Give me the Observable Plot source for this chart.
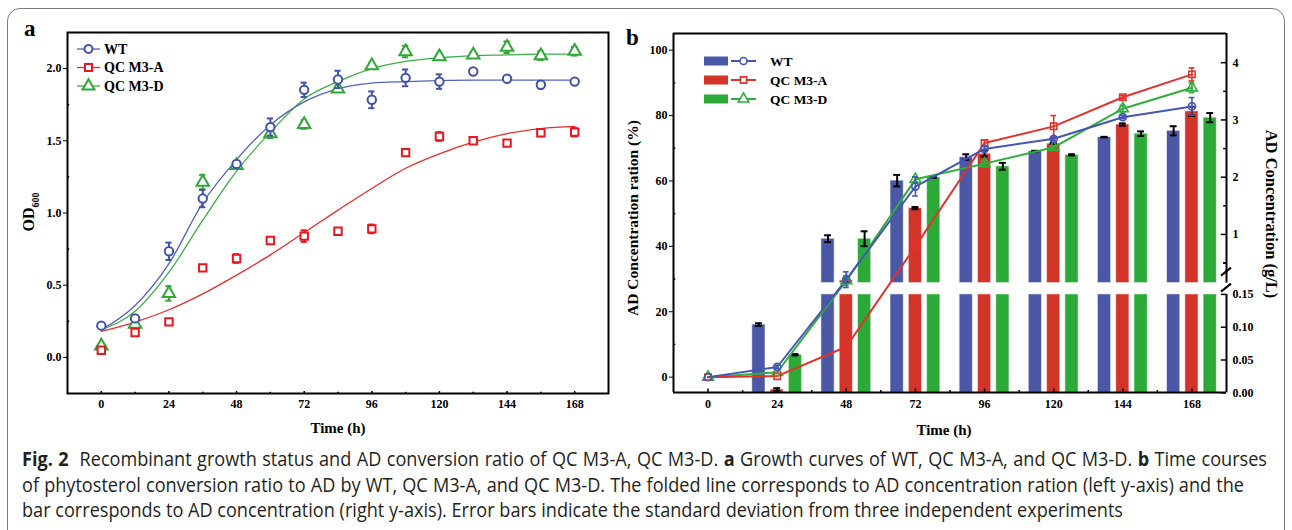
<!DOCTYPE html>
<html>
<head>
<meta charset="utf-8">
<script src="https://cdn.jsdelivr.net/npm/d3@7"></script>
<script src="https://cdn.jsdelivr.net/npm/@observablehq/plot@0.6"></script>
<style>
html,body{margin:0;padding:0;background:#fff;}
#fig{position:relative;width:1292px;height:530px;overflow:hidden;background:#fff;}
#box{position:absolute;left:7px;top:8px;width:1278px;height:580px;border:1.5px solid #7a7b7e;border-radius:13px;box-sizing:border-box;}
.serif{font-family:"Liberation Serif","Times New Roman",serif;font-weight:bold;color:#000;}
.lab{position:absolute;white-space:nowrap;line-height:1;}
.rot{transform:translate(-50%,-50%) rotate(-90deg);}
.rotr{transform:translate(-50%,-50%) rotate(90deg);}
.ctr{transform:translate(-50%,-50%);}
.cap{position:absolute;left:22px;white-space:nowrap;font-family:"Liberation Sans Narrow","Open Sans","Noto Sans",sans-serif;font-size:19.5px;color:#231f20;transform-origin:0 0;line-height:1;}
.plot{position:absolute;left:0;top:0;}
#legend{position:absolute;left:0;top:0;}
</style>
</head>
<body>
<div id="fig">
  <div id="box"></div>
  <div id="pa" class="plot"></div>
  <div id="pb1" class="plot" style="left:610px"></div>
  <div id="pb2" class="plot" style="left:610px"></div>
  <div class="lab serif" style="left:24px;top:17px;font-size:23px">a</div>
  <div class="lab serif" style="left:626px;top:26px;font-size:23px">b</div>
  <div class="lab serif rot" style="left:31px;top:212px;font-size:16px">OD<sub style="font-size:10px">600</sub></div>
  <div class="lab serif ctr" style="left:338px;top:428px;font-size:15px">Time (h)</div>
  <div class="lab serif ctr" style="left:944px;top:430px;font-size:15px">Time (h)</div>
  <div class="lab serif rot" style="left:633px;top:218px;font-size:15.5px">AD Concentration ration (%)</div>
  <div class="lab serif rotr" style="left:1271px;top:214px;font-size:16.5px">AD Concentration (g/L)</div>
  <div class="cap" data-w="1245" data-justify="1" style="top:449px"><b>Fig. 2</b>&nbsp; Recombinant growth status and AD conversion ratio of QC M3-A, QC M3-D. <b>a</b> Growth curves of WT, QC M3-A, and QC M3-D. <b>b</b> Time courses</div>
  <div class="cap" data-w="1222" data-justify="1" style="top:475px">of phytosterol conversion ratio to AD by WT, QC M3-A, and QC M3-D. The folded line corresponds to AD concentration ration (left y-axis) and the</div>
  <div class="cap" data-w="1101" style="top:500px">bar corresponds to AD concentration (right y-axis). Error bars indicate the standard deviation from three independent experiments</div>
</div>
<script>
// ================= DATA =================
const seriesNames = ["WT", "QC M3-A", "QC M3-D"];

// ---- Panel a: OD600 growth curves ----
const timeA   = [0, 12, 24, 36, 48, 60, 72, 84, 96, 108, 120, 132, 144, 156, 168];
const odWT    = [0.22, 0.27, 0.735, 1.10, 1.34, 1.595, 1.853, 1.925, 1.784, 1.936, 1.91, 1.98, 1.93, 1.888, 1.91];
const odWTsd  = [0.01, 0.02, 0.06, 0.06, 0.02, 0.06, 0.05, 0.06, 0.058, 0.058, 0.05, 0.01, 0.01, 0.025, 0.01];
const odA     = [0.05, 0.173, 0.246, 0.62, 0.685, 0.81, 0.84, 0.873, 0.89, 1.418, 1.53, 1.50, 1.484, 1.556, 1.56];
const odAsd   = [0.02, 0.01, 0.01, 0.01, 0.03, 0.02, 0.04, 0.02, 0.03, 0.02, 0.03, 0.02, 0.02, 0.025, 0.03];
const odD     = [0.08, 0.23, 0.443, 1.214, 1.33, 1.549, 1.613, 1.86, 2.02, 2.118, 2.083, 2.095, 2.148, 2.09, 2.12];
const odDsd   = [0.01, 0.02, 0.05, 0.05, 0.02, 0.03, 0.03, 0.02, 0.02, 0.04, 0.02, 0.02, 0.04, 0.03, 0.03];
// fitted growth curves
const fitTime = [0, 12, 24, 36, 48, 60, 72, 84, 96, 108, 120, 132, 144, 156, 168];
const fitWT   = [0.19, 0.36, 0.65, 1.07, 1.37, 1.61, 1.77, 1.86, 1.90, 1.91, 1.917, 1.92, 1.92, 1.92, 1.92];
const fitA    = [0.18, 0.245, 0.33, 0.44, 0.57, 0.71, 0.865, 1.02, 1.17, 1.31, 1.41, 1.49, 1.55, 1.585, 1.60];
const fitD    = [0.19, 0.32, 0.59, 0.95, 1.29, 1.56, 1.79, 1.91, 2.0, 2.05, 2.075, 2.09, 2.095, 2.10, 2.10];
const ticksAx = [0, 24, 48, 72, 96, 120, 144, 168];
const ticksAy = [0, 0.5, 1.0, 1.5, 2.0];

// ---- Panel b: AD conversion ratio (lines, %) and AD concentration (bars, g/L) ----
const timeB     = [0, 24, 48, 72, 96, 120, 144, 168];
const ratioWT   = [0, 3.1, 29.8, 58.3, 69.8, 72.9, 79.5, 82.8];
const ratioWTsd = [0, 0.5, 2.4, 2.9, 0.8, 0.5, 0.5, 2.7];
const ratioA    = [0, 0.3, 9.3, 40.0, 71.6, 76.7, 85.6, 92.6];
const ratioAsd  = [0, 0.3, 0.5, 0.5, 1.0, 3.3, 0.5, 2.0];
const ratioD    = [0, 1.5, 29.5, 60.5, 65.3, 70.3, 82.1, 88.5];
const ratioDsd  = [0, 0.3, 1.5, 0.8, 0.8, 0.5, 1.0, 1.5];
const barTime   = [24, 48, 72, 96, 120, 144, 168];
const concWT    = [0.104, 0.925, 1.94, 2.35, 2.456, 2.70, 2.81];
const concWTsd  = [0.002, 0.06, 0.10, 0.05, 0.005, 0.005, 0.08];
const concA     = [0.005, 0.196, 1.46, 2.41, 2.585, 2.92, 3.15];
const concAsd   = [0.002, 0.03, 0.02, 0.05, 0.01, 0.02, 0.08];
const concD     = [0.058, 0.925, 2.00, 2.19, 2.39, 2.76, 3.04];
const concDsd   = [0.001, 0.13, 0.015, 0.06, 0.01, 0.04, 0.08];
const ticksBx     = [0, 24, 48, 72, 96, 120, 144, 168];
const ticksBleft  = [0, 20, 40, 60, 80, 100];
const ticksBright = [0, 0.05, 0.10, 0.15, 1, 2, 3, 4];
const concBreak   = 0.15;   // axis break value (g/L)

// ================= STYLE / LAYOUT =================
const FONT = '"Liberation Serif","Times New Roman",serif';
const colA   = ["#3f52aa", "#e8171f", "#2fa836"];
const colFit = ["#5263bf", "#ee2b2b", "#3bb046"];
const colBar = ["#4a58a5", "#d2342a", "#2caa38"];
const colLn  = ["#4356b4", "#e2322c", "#2fae3b"];
const symA   = ["circle", "square", "triangle"];
const barOff = [-6.35, 0, 6.35];   // hours
const BAR_HALF = 2.3;
const LOW_TOP = concBreak - 1e-9;
const axStyle = {fontFamily: FONT, fontWeight: "bold", fontSize: "12px", color: "#000", background: "transparent", overflow: "visible"};

const rows = (t, v, sd) => t.map((x, i) => ({t: x, v: v[i], sd: sd ? sd[i] : 0}));

function errMarks(data, color, halfCap, width, xa, minSd) {
  const d = data.filter(r => r.sd > minSd);
  return [
    Plot.ruleX(d, {x: xa, y1: r => r.v - r.sd, y2: r => r.v + r.sd, stroke: color, strokeWidth: width}),
    Plot.ruleY(d, {y: r => r.v + r.sd, x1: r => xa(r) - halfCap, x2: r => xa(r) + halfCap, stroke: color, strokeWidth: width}),
    Plot.ruleY(d, {y: r => r.v - r.sd, x1: r => xa(r) - halfCap, x2: r => xa(r) + halfCap, stroke: color, strokeWidth: width})
  ];
}
const minorOf = (ticks) => ticks.slice(0, -1).map((v, i) => (v + ticks[i + 1]) / 2);

// ================= PANEL A =================
const ptsA = [rows(timeA, odWT, odWTsd), rows(timeA, odA, odAsd), rows(timeA, odD, odDsd)];
const fitsA = [rows(fitTime, fitWT), rows(fitTime, fitA), rows(fitTime, fitD)];
const orderA = [2, 1, 0];
const plotA = Plot.plot({
  width: 640, height: 445,
  marginLeft: 67, marginRight: 32, marginTop: 32, marginBottom: 52,
  x: {domain: [-12, 180]},
  y: {domain: [-0.25, 2.25]},
  style: axStyle,
  marks: [
    ...orderA.map(k => Plot.line(fitsA[k], {x: "t", y: "v", stroke: colFit[k], strokeWidth: 1.3, curve: "monotone-x"})),
    ...orderA.flatMap(k => [
      ...errMarks(ptsA[k], colA[k], 1.1, 2, r => r.t, 0.012),
      Plot.dot(ptsA[k], {x: "t", y: "v", symbol: symA[k], r: k === 2 ? 4.6 : 4.2, stroke: colA[k], strokeWidth: 2, fill: "white"})
    ]),
    Plot.axisY({ticks: ticksAy, tickSize: 4, tickPadding: 2, tickFormat: d3.format(".1f"), label: null}),
    Plot.ruleY(minorOf(ticksAy), {y: d => d, x1: -12, x2: -11.2, strokeWidth: 1.5}),
    Plot.axisX({ticks: ticksAx, tickSize: 0, tickPadding: 6, label: null}),
    Plot.ruleX(ticksAx, {x: d => d, y1: -0.25, y2: -0.236, strokeWidth: 1.5}),
    Plot.ruleX(minorOf(ticksAx), {x: d => d, y1: -0.25, y2: -0.242, strokeWidth: 1.5}),
    Plot.frame({stroke: "#000", strokeWidth: 2})
  ]
});
document.getElementById("pa").append(plotA);

// ================= PANEL B: bars (right axis, broken) =================
const concs = [[concWT, concWTsd], [concA, concAsd], [concD, concDsd]];
const barRows = concs.flatMap(([v, sd], k) => rows(barTime, v, sd).map(r => ({...r, k})));
const bx = r => r.t + barOff[r.k];
const plotB1 = Plot.plot({
  width: 682, height: 445,
  marginLeft: 63, marginRight: 66, marginTop: 33, marginBottom: 53,
  x: {domain: [-12, 180], axis: null},
  y: {type: "linear", domain: [0, concBreak, concBreak, 4.51], range: [392.3, 293.9, 282.6, 33]},
  style: axStyle,
  marks: [
    Plot.rect(barRows, {x1: r => bx(r) - BAR_HALF, x2: r => bx(r) + BAR_HALF, y1: 0, y2: r => Math.min(r.v, LOW_TOP),
      fill: r => colBar[r.k], stroke: "#ffffff", strokeOpacity: 0.55, strokeWidth: 1}),
    Plot.rect(barRows.filter(r => r.v > concBreak), {x1: r => bx(r) - BAR_HALF, x2: r => bx(r) + BAR_HALF, y1: concBreak, y2: r => r.v,
      fill: r => colBar[r.k], stroke: "#ffffff", strokeOpacity: 0.55, strokeWidth: 1}),
    ...errMarks(barRows, "#000", 1.2, 2, bx, 0),
    Plot.axisY({anchor: "right", ticks: ticksBright.map(v => v === concBreak ? LOW_TOP : v), tickSize: 0, tickPadding: 6,
      tickFormat: d => d < 0.5 ? d.toFixed(2) : d3.format("d")(d), label: null}),
    Plot.ruleY(ticksBright.map(v => v === concBreak ? LOW_TOP : v), {y: d => d, x1: 178.2, x2: 180, strokeWidth: 1.5}),
    Plot.ruleY(minorOf([0, 1, 2, 3, 4]).concat([0.5]), {y: d => d, x1: 179, x2: 180, strokeWidth: 1.5}),
    Plot.ruleX([180], {y1: 0, y2: LOW_TOP, strokeWidth: 2}),
    Plot.ruleX([180], {y1: concBreak, y2: 4.51, strokeWidth: 2})
  ]
});
document.getElementById("pb1").append(plotB1);
// axis-break slashes
{
  const sx = plotB1.scale("x").apply(180), yU = plotB1.scale("y").apply(concBreak);
  const g = d3.select(plotB1).append("g").attr("stroke", "#000").attr("stroke-width", 2);
  [yU - 11, yU + 5].forEach(c => g.append("line").attr("x1", sx - 5).attr("y1", c + 4).attr("x2", sx + 5).attr("y2", c - 4));
}

// ================= PANEL B: lines (left axis) =================
const ptsB = [rows(timeB, ratioWT, ratioWTsd), rows(timeB, ratioA, ratioAsd), rows(timeB, ratioD, ratioDsd)];
const orderB = [2, 1, 0];
const plotB2 = Plot.plot({
  width: 682, height: 445,
  marginLeft: 63, marginRight: 66, marginTop: 33, marginBottom: 53,
  x: {domain: [-12, 180]},
  y: {domain: [-4.7, 105.1]},
  style: axStyle,
  marks: [
    ...orderB.map(k => Plot.line(ptsB[k], {x: "t", y: "v", stroke: colLn[k], strokeWidth: 2})),
    ...orderB.flatMap(k => [
      ...errMarks(ptsB[k], colLn[k], 1.0, 1.6, r => r.t, 0.4),
      Plot.dot(ptsB[k], {x: "t", y: "v", symbol: symA[k], r: k === 2 ? 4 : 3.6, stroke: colLn[k], strokeWidth: 1.6, fill: "none"})
    ]),
    Plot.axisY({ticks: ticksBleft, tickSize: 4, tickPadding: 2, label: null}),
    Plot.ruleY(minorOf(ticksBleft), {y: d => d, x1: -12, x2: -11.2, strokeWidth: 1.5}),
    Plot.axisX({ticks: ticksBx, tickSize: 0, tickPadding: 7, label: null}),
    Plot.ruleX(ticksBx, {x: d => d, y1: -4.7, y2: -3.6, strokeWidth: 1.5}),
    Plot.ruleX(minorOf(ticksBx), {x: d => d, y1: -4.7, y2: -4.1, strokeWidth: 1.5}),
    Plot.ruleY([105.1], {strokeWidth: 2}),
    Plot.ruleY([-4.7], {strokeWidth: 2}),
    Plot.ruleX([-12], {strokeWidth: 2})
  ]
});
document.getElementById("pb2").append(plotB2);

// ================= LEGENDS =================
const leg = d3.select("#fig").append("svg").attr("id", "legend").attr("width", 1292).attr("height", 530)
  .style("font-family", FONT).style("font-weight", "bold");
const symType = {circle: d3.symbolCircle, square: d3.symbolSquare, triangle: d3.symbolTriangle};
seriesNames.forEach((name, k) => {
  const y = 49 + k * 18.5;
  leg.append("line").attr("x1", 77).attr("x2", 100).attr("y1", y).attr("y2", y).attr("stroke", colFit[k]).attr("stroke-width", 1.3);
  const r = k === 2 ? 4.4 : 4.0;
  leg.append("path").attr("d", d3.symbol(symType[symA[k]], Math.PI * r * r)()).attr("transform", `translate(88.5,${y})`)
    .attr("fill", "white").attr("stroke", colA[k]).attr("stroke-width", 2);
  leg.append("text").attr("x", 104).attr("y", y).attr("dy", "0.35em").attr("font-size", 14).text(name);
});
seriesNames.forEach((name, k) => {
  const y = 61 + k * 19;
  leg.append("rect").attr("x", 704).attr("y", y - 4.5).attr("width", 24).attr("height", 9).attr("fill", colBar[k]);
  leg.append("line").attr("x1", 731).attr("x2", 756).attr("y1", y).attr("y2", y).attr("stroke", colLn[k]).attr("stroke-width", 2);
  const r = k === 2 ? 3.9 : 3.5;
  leg.append("path").attr("d", d3.symbol(symType[symA[k]], Math.PI * r * r)()).attr("transform", `translate(743.5,${y})`)
    .attr("fill", "white").attr("stroke", colLn[k]).attr("stroke-width", 1.6);
  leg.append("text").attr("x", 770).attr("y", y).attr("dy", "0.35em").attr("font-size", 13.5).text(name);
});

// ================= CAPTION: common condensing + justified lines =================
{
  const caps = [...document.querySelectorAll(".cap")];
  const last = caps[caps.length - 1];
  const s = (+last.dataset.w) / last.getBoundingClientRect().width;
  caps.forEach(el => {
    if (el.dataset.justify) {
      const w = el.getBoundingClientRect().width;
      const n = (el.textContent.match(/[ \u00a0]/g) || []).length;
      el.style.wordSpacing = (((+el.dataset.w) / s - w) / n) + "px";
    }
    el.style.transform = `scaleX(${s})`;
  });
}
</script>
</body>
</html>
